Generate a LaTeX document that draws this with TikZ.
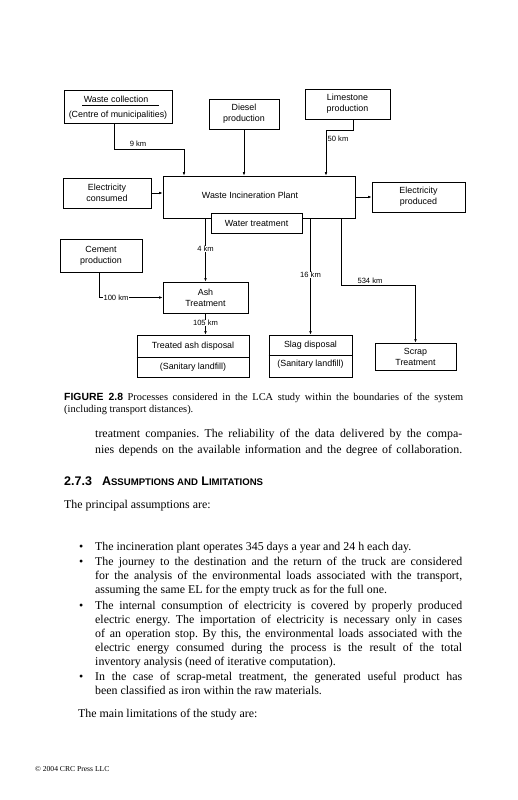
\documentclass[tikz,border=0pt]{standalone}
\usepackage{fontspec}
\setmainfont{Liberation Serif}
\setsansfont{Liberation Sans}
\usetikzlibrary{arrows.meta}
\frenchspacing

% one justified line of body text
\newcommand{\jl}[1]{\makebox[367pt][s]{#1}}

\begin{document}
\begin{tikzpicture}[x=1pt, y=-1pt,
  box/.style={draw, line width=0.7pt, inner sep=0pt, align=center,
              font=\sffamily\fontsize{8.9}{11}\selectfont},
  txt/.style={inner sep=0pt, align=center, font=\sffamily\fontsize{8.9}{11}\selectfont},
  km/.style={inner sep=0.6pt, font=\sffamily\fontsize{7.6}{8}\selectfont},
  kmcut/.style={km, fill=white},
  arr/.style={line width=0.6pt, -{Latex[length=3.6pt,width=2.6pt]}},
  body/.style={inner sep=0pt, anchor=base west, font=\fontsize{11.9}{13}\selectfont},
]

  \useasboundingbox (0,0) rectangle (518,800);
  \fill[white] (0,0) rectangle (518,800);

  % ============================================================
  % DIAGRAM — inputs, plant and outputs
  % ============================================================
  \begin{scope}

    % upper row of suppliers
    \node[box, minimum width=108pt, minimum height=33pt] (wc) at (118,106.5) {};
    \node[txt] (wctop) at (116,99) {Waste collection};
    \node[txt] (wcbot) at (118,115) {(Centre of municipalities)};
    \draw[line width=0.6pt] (82,105) -- (159,105);

    \node[box, minimum width=70pt, minimum height=30pt] (diesel) at (244,114)
          {Diesel\\production};
    \node[box, minimum width=85pt, minimum height=30pt] (lime) at (347.5,104)
          {Limestone\\production};

    % the plant itself
    \node[box, minimum width=192pt, minimum height=42pt] (plant) at (259,197) {};
    \node[txt] (plantname) at (250,195) {Waste Incineration Plant};
    \node[box, fill=white, minimum width=91pt, minimum height=20pt] (water)
          at (256.5,223) {Water treatment};

    \node[box, minimum width=88pt, minimum height=30pt] (ecin) at (107,193)
          {Electricity\\consumed};
    \node[box, minimum width=93pt, minimum height=30pt] (ecout) at (418.5,197)
          {Electricity\\produced};

    % lower row
    \node[box, minimum width=82pt, minimum height=33pt] (cement) at (101,255.5)
          {Cement\\production};
    \node[box, minimum width=85pt, minimum height=31pt] (ash) at (205.5,297.5)
          {Ash\\Treatment};

    \node[box, minimum width=112pt, minimum height=42pt] (tad) at (193,356) {};
    \draw[line width=0.6pt] (tad.west |- 0,357) -- (tad.east |- 0,357);
    \node[txt] (tadtop) at (193,346) {Treated ash disposal};
    \node[txt] (tadbot) at (193,367) {(Sanitary landfill)};

    \node[box, minimum width=83pt, minimum height=42pt] (slag) at (310.5,356) {};
    \draw[line width=0.6pt] (slag.west |- 0,355) -- (slag.east |- 0,355);
    \node[txt] (slagtop) at (310.5,345) {Slag disposal};
    \node[txt] (slagbot) at (310.5,364) {(Sanitary landfill)};

    \node[box, minimum width=81pt, minimum height=27pt] (scrap) at (415.5,356.5)
          {Scrap\\Treatment};

    % transport links
    \coordinate (wcbend)   at (184,149);
    \coordinate (limebend) at (326,130);
    \coordinate (scrapbend) at (341,285);

    \draw[arr] ([xshift=-4pt]wc.south) |- (wcbend) -- (wcbend |- plant.north);
    \draw[arr] (diesel.south) -- (diesel.south |- plant.north);
    \draw[arr] ([xshift=5.5pt]lime.south) |- (limebend) -- (limebend |- plant.north);
    \draw[arr] (ecin.east) -- (ecin.east -| plant.west);
    \draw[arr] (plant.east) -- (plant.east -| ecout.west);

    \draw[arr] (ash.north |- plant.south) -- (ash.north);
    \draw[arr] (slag.north |- plant.south) -- (slag.north);
    \draw[arr] (scrapbend |- plant.south) -- (scrapbend) -| (scrap.north);
    \draw[arr] ([xshift=-2pt]cement.south) |- (ash.west);
    \draw[arr] (ash.south) -- (ash.south |- tad.north);

    % distances
    \node[km] (km9)   at (138,144) {9 km};
    \node[km] (km50)  at (338,139) {50 km};
    \node[kmcut] (km4)   at (205.5,249) {4 km};
    \node[kmcut] (km16)  at (310.5,275) {16 km};
    \node[km] (km534) at (370,281) {534 km};
    \node[kmcut] (km100) at (116,298) {100 km};
    \node[kmcut] (km105) at (205.5,323) {105 km};

  \end{scope}

  % ============================================================
  % CAPTION
  % ============================================================
  \node[inner sep=0pt, anchor=base west, font=\fontsize{10.4}{12}\selectfont] (cap1)
        at (64,400) {\makebox[399pt][s]{{\sffamily\bfseries FIGURE 2.8} Processes
        considered in the LCA study within the boundaries of the system}};
  \node[inner sep=0pt, anchor=base west, font=\fontsize{10.4}{12}\selectfont] (cap2)
        at (64,412) {(including transport distances).};

  % ============================================================
  % RUNNING TEXT
  % ============================================================
  \node[body] (par1) at (95,437) {\jl{treatment companies. The reliability of the data
        delivered by the compa-}};
  \node[body] (par2) at (95,453) {\jl{nies depends on the available information and the
        degree of collaboration.}};

  \node[inner sep=0pt, anchor=base west, font=\sffamily\bfseries] (head) at (64,485)
        {\fontsize{12.5}{14}\selectfont 2.7.3\hspace{10pt}A{\fontsize{9.6}{11}\selectfont
        SSUMPTIONS AND} L{\fontsize{9.6}{11}\selectfont IMITATIONS}};

  \node[body] (intro) at (64,508) {The principal assumptions are:};

  % bullet lines (baseline / text)
  \foreach \yy/\txt in {
      550/{The incineration plant operates 345 days a year and 24 h each day.},
      565.5/{\jl{The journey to the destination and the return of the truck are considered}},
      579.5/{\jl{for the analysis of the environmental loads associated with the transport,}},
      593.5/{assuming the same EL for the empty truck as for the full one.},
      609/{\jl{The internal consumption of electricity is covered by properly produced}},
      623/{\jl{electric energy. The importation of electricity is necessary only in cases}},
      637/{\jl{of an operation stop. By this, the environmental loads associated with the}},
      651/{\jl{electric energy consumed during the process is the result of the total}},
      665/{inventory analysis (need of iterative computation).},
      680.5/{\jl{In the case of scrap-metal treatment, the generated useful product has}},
      694.5/{been classified as iron within the raw materials.}
    }{
      \node[body] (line\yy) at (95,\yy) {\txt};
    }

  \foreach \yy in {550,565.5,609,680.5}
    \node[body] (dot\yy) at (79,\yy) {\textbullet};

  \node[body] (outro) at (78,717) {The main limitations of the study are:};

  \node[inner sep=0pt, anchor=base west, font=\fontsize{7.6}{9}\selectfont] (foot)
        at (35,771) {\textcopyright\ 2004 CRC Press LLC};

\end{tikzpicture}
\end{document}
